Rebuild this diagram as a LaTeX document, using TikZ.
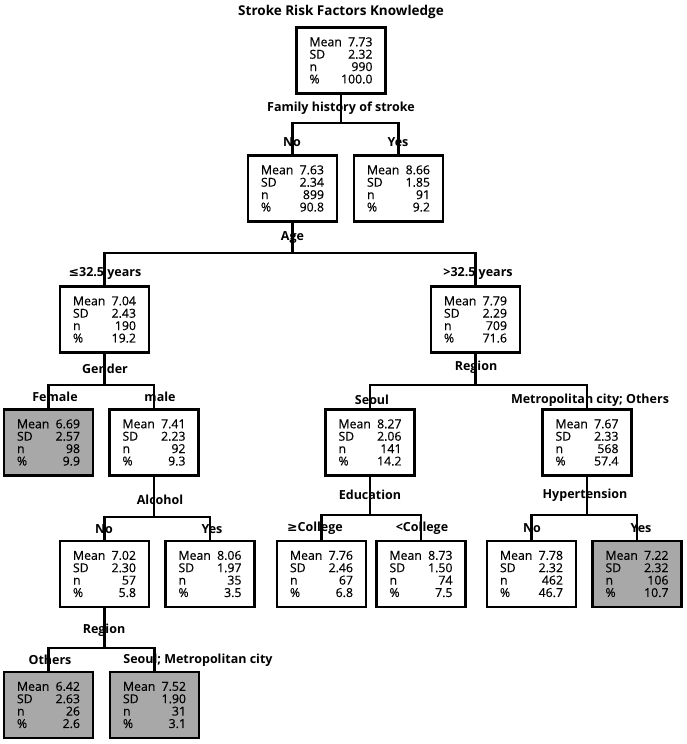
\documentclass[tikz,border=0pt]{standalone}
\usepackage{fontspec}
\setmainfont{Open Sans}
\newfontfamily\symfont{DejaVu Sans}
\newfontfamily\statfont[FakeBold=0.4]{Open Sans}
\definecolor{leafgray}{RGB}{168,168,168}
\newcommand{\statrow}[2]{\makebox[34pt][l]{#1}\makebox[29pt][r]{#2}}
\newcommand{\stats}[4]{\statrow{Mean}{#1}\\\statrow{SD}{#2}\\\statrow{n}{#3}\\\statrow{\%}{#4}}
\begin{document}
\begin{tikzpicture}[x=1pt,y=-1pt,
    box/.style={draw,line width=2.4pt,fill=white,minimum width=89pt,minimum height=66pt,inner sep=0pt,align=left,font=\statfont\fontsize{12.3}{12.4}\selectfont},
    leaf/.style={box,fill=leafgray},
    split/.style={inner sep=1pt,font=\bfseries\fontsize{12.5}{14}\selectfont},
    wire/.style={line width=2.4pt}]
\useasboundingbox (0,0) rectangle (686,744);
\node[font=\bfseries\fontsize{13.5}{15}\selectfont] (title) at (341,12) {Stroke Risk Factors Knowledge};
\node[box] (root) at (341,60.5) {\stats{7.73}{2.32}{990}{100.0}};
\node[box] (noF) at (292.5,188.5) {\stats{7.63}{2.34}{899}{90.8}};
\node[box] (yesF) at (398.5,188.5) {\stats{8.66}{1.85}{91}{9.2}};
\node[box] (le325) at (104.5,319.5) {\stats{7.04}{2.43}{190}{19.2}};
\node[box] (gt325) at (475.5,319.5) {\stats{7.79}{2.29}{709}{71.6}};
\node[leaf] (female) at (48.5,442.5) {\stats{6.69}{2.57}{98}{9.9}};
\node[box] (male) at (154,442.5) {\stats{7.41}{2.23}{92}{9.3}};
\node[box] (seoul) at (370,442.5) {\stats{8.27}{2.06}{141}{14.2}};
\node[box] (metro) at (587,442.5) {\stats{7.67}{2.33}{568}{57.4}};
\node[box] (alcNo) at (104.5,574) {\stats{7.02}{2.30}{57}{5.8}};
\node[box] (alcYes) at (210,574) {\stats{8.06}{1.97}{35}{3.5}};
\node[box] (geC) at (321.5,574) {\stats{7.76}{2.46}{67}{6.8}};
\node[box] (ltC) at (421,574) {\stats{8.73}{1.50}{74}{7.5}};
\node[box] (hypNo) at (531.5,574) {\stats{7.78}{2.32}{462}{46.7}};
\node[leaf] (hypYes) at (637,574) {\stats{7.22}{2.32}{106}{10.7}};
\node[leaf] (others) at (48.5,705) {\stats{6.42}{2.63}{26}{2.6}};
\node[leaf] (seoulMet) at (154.5,705) {\stats{7.52}{1.90}{31}{3.1}};
\coordinate (famJ) at (341,123);
\coordinate (ageJ) at (292.5,253);
\coordinate (genderJ) at (104.5,385);
\coordinate (regionRJ) at (475.5,385);
\coordinate (alcJ) at (154,517);
\coordinate (educJ) at (370,515);
\coordinate (hyperJ) at (587,515);
\coordinate (regionLJ) at (104.5,648);
\foreach \p/\j/\a/\b in {root/famJ/noF/yesF,noF/ageJ/le325/gt325,le325/genderJ/female/male,gt325/regionRJ/seoul/metro,male/alcJ/alcNo/alcYes,seoul/educJ/geC/ltC,metro/hyperJ/hypNo/hypYes,alcNo/regionLJ/others/seoulMet}
  {\draw[wire] (\p.south) -- (\j);
   \draw[wire] (\a.north) |- (\j) -| (\b.north);}
\node[split] (fam) at (341,108) {Family history of stroke};
\node[split] (noL) at (292,142) {No};
\node[split] (yesL) at (398,142) {Yes};
\node[split] (age) at (292.5,238) {Age};
\node[split] (le325L) at (105,273) {{\symfont ≤}32.5 years};
\node[split] (gt325L) at (478,273) {>32.5 years};
\node[split] (gender) at (105,369) {Gender};
\node[split] (femaleL) at (55,397) {Female};
\node[split] (maleL) at (160,397) {male};
\node[split] (regionR) at (476,367) {Region};
\node[split] (seoulL) at (372,400) {Seoul};
\node[split] (metroL) at (590,400) {Metropolitan city; Others};
\node[split] (alcohol) at (160,500) {Alcohol};
\node[split] (alcNoL) at (104,529) {No};
\node[split] (alcYesL) at (212,529) {Yes};
\node[split] (educ) at (370,495) {Education};
\node[split] (geCL) at (315,528) {{\symfont ≥}College};
\node[split] (ltCL) at (422,528) {<College};
\node[split] (hyper) at (585,495) {Hypertension};
\node[split] (hypNoL) at (532,528) {No};
\node[split] (hypYesL) at (641,528) {Yes};
\node[split] (regionL) at (104,630) {Region};
\node[split] (othersL) at (50,660) {Others};
\node[split] (seoulMetL) at (198,660) {Seoul; Metropolitan city};
\end{tikzpicture}
\end{document}
